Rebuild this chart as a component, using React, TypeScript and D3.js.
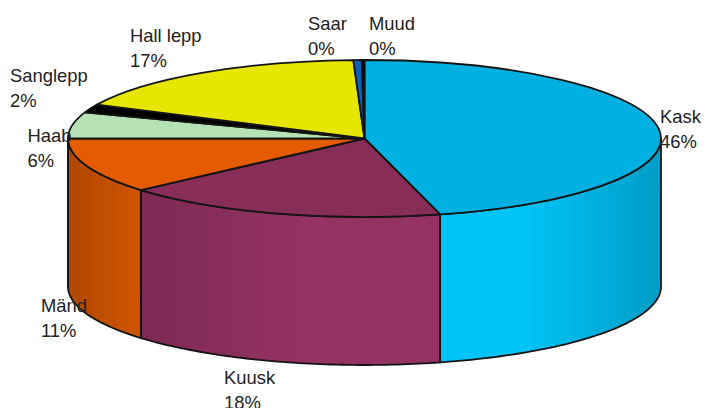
import React from "react";
import * as d3 from "d3";

const categories = ["Kask", "Kuusk", "Mänd", "Haab", "Sanglepp", "Hall lepp", "Saar", "Muud"];
const values = [45.9, 17.7, 11.4, 5.4, 1.7, 17.3, 0.45, 0.15];
const percentLabels = ["46%", "18%", "11%", "6%", "2%", "17%", "0%", "0%"];
const topColors = ["#00b0e0", "#882c58", "#e55c00", "#b5e3b5", "#000000", "#e6e600", "#0a62b5", "#000000"];
const wallColors = ["#00c4f8", "#943263", "#dd5a00", "#b5e3b5", "#000000", "#e6e600", "#0a62b5", "#000000"];

// Layout, separate from the data: [x, first baseline]
const labelAnchors: [number, number][] = [
  [660, 123], [224, 384], [41, 312], [27.5, 142], [10, 82], [130, 42], [308, 29.5], [369, 29.5],
];

const W = 705, H = 408;
const cx = 364.5, cy = 138.5, rx = 296.5, ry = 78.5, depth = 148;
const lineGap = 25;
const yScale = ry / rx;

const pie = d3.pie<number>().sort(null).value((d) => d).startAngle(0).endAngle(2 * Math.PI);
const slices = pie(values);
const arc = d3.arc<d3.PieArcDatum<number>>().innerRadius(0).outerRadius(rx);
const xToShade = d3.scaleLinear<number>()
  .domain([68, 139.5, 140.5, 300, 520, 661])
  .range([0.8, 0.94, 0.84, 1, 1, 0.8])
  .clamp(true);

const px = (t: number) => cx + rx * Math.sin(t);
const py = (t: number) => cy - ry * Math.cos(t);

const edge = d3.line<[number, number]>();

function wallPath(a: number, b: number) {
  const ts = d3.range(0, 61).map((i) => a + ((b - a) * i) / 60);
  const top = ts.map((t) => [px(t), py(t)] as [number, number]);
  const bottom = ts.slice().reverse().map((t) => [px(t), py(t) + depth] as [number, number]);
  return edge([...top, ...bottom]) + "Z";
}

function stepStops(base: string, x0: number, x1: number) {
  const band = 13;
  const n = Math.max(1, Math.round((x1 - x0) / band));
  const out: { offset: number; color: string }[] = [];
  const c = d3.rgb(base);
  for (let i = 0; i < n; i++) {
    const s = xToShade(x0 + ((i + 0.5) * (x1 - x0)) / n);
    const col = d3.rgb(c.r * s, c.g * s, c.b * s).formatHex();
    out.push({ offset: i / n, color: col }, { offset: (i + 1) / n, color: col });
  }
  return out;
}

const frontWalls = slices
  .map((s, i) => ({
    i,
    a: Math.max(s.startAngle, Math.PI / 2),
    b: Math.min(s.endAngle, (3 * Math.PI) / 2),
  }))
  .filter((w) => w.b > w.a);

export default function App() {
  return (
    <svg
      width={W}
      height={H}
      viewBox={`0 0 ${W} ${H}`}
      style={{ position: "fixed", left: 0, top: 0, display: "block", background: "#fff" }}
    >
      <defs>
        {frontWalls.map((w) => {
          const xs = [px(w.a), px(w.b)];
          const x0 = Math.min(...xs), x1 = Math.max(...xs);
          return (
            <linearGradient
              key={w.i}
              id={`wall-${w.i}`}
              gradientUnits="userSpaceOnUse"
              x1={x0}
              x2={x1}
              y1={0}
              y2={0}
            >
              {stepStops(wallColors[w.i], x0, x1).map((s, k) => (
                <stop key={k} offset={s.offset} stopColor={s.color} />
              ))}
            </linearGradient>
          );
        })}
      </defs>
      {frontWalls.map((w) => (
        <path
          key={w.i}
          d={wallPath(w.a, w.b)}
          fill={`url(#wall-${w.i})`}
          stroke="#141414"
          strokeWidth={1.8}
          strokeLinejoin="round"
        />
      ))}
      <g transform={`translate(${cx},${cy}) scale(1,${yScale})`}>
        {slices.map((s, i) => (
          <path
            key={i}
            d={arc(s) ?? ""}
            fill={topColors[i]}
            stroke="#141414"
            strokeWidth={1.8}
            strokeLinejoin="round"
            vectorEffect="non-scaling-stroke"
          />
        ))}
      </g>
      <g fontFamily="'Liberation Sans', Arial, sans-serif" fontSize={18.4} fill="#222">
        {categories.map((c, i) => (
          <text key={c} x={labelAnchors[i][0]} y={labelAnchors[i][1]}>
            <tspan x={labelAnchors[i][0]}>{c}</tspan>
            <tspan x={labelAnchors[i][0]} dy={lineGap}>{percentLabels[i]}</tspan>
          </text>
        ))}
      </g>
    </svg>
  );
}
